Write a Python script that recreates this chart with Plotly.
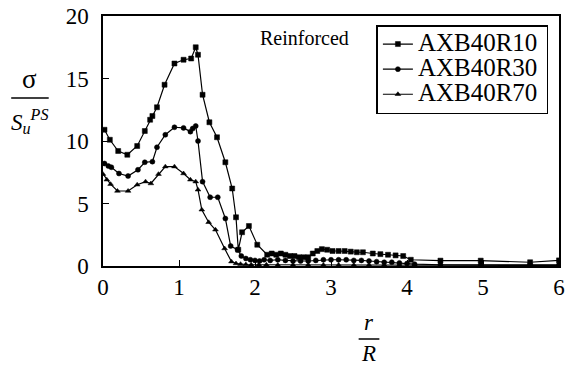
import plotly.graph_objects as go

# ---- data ----
x_r10 = [0.02, 0.09, 0.20, 0.32, 0.45, 0.55, 0.62, 0.65, 0.71, 0.81, 0.94, 1.06, 1.16, 1.22, 1.25,
         1.31, 1.40, 1.50, 1.61, 1.70, 1.75, 1.78, 1.83, 1.92, 2.03, 2.16, 2.22, 2.28, 2.34, 2.40,
         2.46, 2.52, 2.58, 2.64, 2.70, 2.76, 2.82, 2.88, 2.95, 3.02, 3.10, 3.18, 3.26, 3.34, 3.42,
         3.55, 3.65, 3.75, 3.85, 3.95, 4.05, 4.44, 4.97, 5.62, 6.00]
y_r10 = [10.9, 10.1, 9.2, 8.9, 9.6, 10.8, 11.7, 12.0, 12.7, 14.5, 16.2, 16.5, 16.6, 17.5, 16.9,
         13.7, 11.5, 10.3, 8.3, 6.2, 3.9, 1.3, 2.7, 3.2, 1.7, 0.9, 1.0, 0.9, 1.0, 0.9,
         0.8, 0.8, 0.7, 0.7, 0.7, 1.0, 1.2, 1.35, 1.3, 1.2, 1.2, 1.2, 1.15, 1.1, 1.1,
         1.0, 0.95, 0.9, 0.85, 0.8, 0.5, 0.43, 0.43, 0.3, 0.45]

x_r30 = [0.02, 0.07, 0.11, 0.21, 0.33, 0.46, 0.55, 0.65, 0.71, 0.82, 0.94, 1.06, 1.15, 1.18, 1.22,
         1.25, 1.31, 1.41, 1.51, 1.61, 1.68, 1.77, 1.82, 1.88, 1.94, 2.00, 2.06, 2.12, 2.20, 2.30,
         2.40, 2.50, 2.60, 2.70, 2.80, 2.90, 3.00, 3.10, 3.20, 3.30, 3.40, 3.50, 3.60, 3.70, 3.80,
         3.90, 4.00, 4.10, 4.44, 4.97, 5.62, 6.00]
y_r30 = [8.2, 8.0, 7.9, 7.4, 7.2, 7.7, 8.3, 8.35, 9.5, 10.5, 11.1, 11.05, 10.75, 11.0, 11.2,
         10.0, 6.75, 5.5, 5.5, 3.8, 1.6, 1.3, 0.8, 0.6, 0.5, 0.45, 0.4, 0.5, 0.45, 0.5,
         0.45, 0.4, 0.4, 0.4, 0.45, 0.5, 0.5, 0.5, 0.5, 0.45, 0.45, 0.4, 0.35, 0.3, 0.3,
         0.25, 0.2, 0.15, 0.1, 0.1, 0.1, 0.1]

x_r70 = [0.00, 0.05, 0.10, 0.19, 0.33, 0.45, 0.56, 0.63, 0.73, 0.82, 0.94, 1.06, 1.15, 1.22, 1.25,
         1.30, 1.39, 1.48, 1.60, 1.69, 1.75, 1.81, 1.88, 1.95, 2.05, 2.15, 2.30, 2.50, 2.70, 2.90,
         3.10, 3.30, 3.50, 3.70, 3.90, 4.10, 4.44, 4.97, 5.62, 6.00]
y_r70 = [7.35, 6.9, 6.55, 6.0, 6.0, 6.5, 6.75, 6.6, 7.35, 7.95, 7.95, 7.4, 6.9, 6.75, 6.1,
         4.5, 3.5, 2.9, 1.4, 0.35, 0.2, 0.15, 0.12, 0.1, 0.1, 0.1, 0.08, 0.08, 0.08, 0.08,
         0.08, 0.08, 0.08, 0.08, 0.08, 0.08, 0.05, 0.05, 0.05, 0.05]

series = [("AXB40R10", x_r10, y_r10, "square"),
          ("AXB40R30", x_r30, y_r30, "circle"),
          ("AXB40R70", x_r70, y_r70, "triangle-up")]

x_ticks = [0, 1, 2, 3, 4, 5, 6]
y_ticks = [0, 5, 10, 15, 20]

FONT = "'Liberation Serif', 'Times New Roman', Times, serif"

fig = go.Figure()
for name, xs, ys, sym in series:
    fig.add_trace(go.Scatter(
        x=xs, y=ys, mode="lines+markers",
        name=f'<span style="font-size:25px">{name}</span>&nbsp;',
        line=dict(color="black", width=1.2),
        marker=dict(symbol=sym, size=5, color="black",
                    line=dict(color="black", width=0.5)),
    ))

W, H = 569, 371
L, R, T, B = 103, 4, 16, 105
pw, ph = W - L - R, H - T - B

def px(xp):
    return (xp - L) / pw

def py(yp):
    return (H - B - yp) / ph

fig.update_layout(
    width=W, height=H,
    margin=dict(l=L, r=R, t=T, b=B, pad=0),
    paper_bgcolor="white", plot_bgcolor="white",
    font=dict(family=FONT, size=21, color="black"),
    showlegend=True,
    legend=dict(
        x=px(380), y=py(25), xanchor="left", yanchor="top",
        bgcolor="white", bordercolor="black", borderwidth=1.5,
        font=dict(family=FONT, size=17, color="black"),
        itemwidth=30, tracegroupgap=0,
    ),
    xaxis=dict(
        range=[0, 6], tickvals=x_ticks, ticktext=[str(v) for v in x_ticks],
        ticks="inside", ticklen=6, tickcolor="black",
        showline=True, linecolor="black", linewidth=1.5, mirror=True,
        showgrid=False, zeroline=False,
        tickfont=dict(family=FONT, size=23),
        ticklabelstandoff=0,
    ),
    yaxis=dict(
        range=[0, 20], tickvals=y_ticks, ticktext=[str(v) for v in y_ticks],
        ticks="inside", ticklen=6, tickcolor="black",
        showline=True, linecolor="black", linewidth=1.5, mirror=True,
        showgrid=False, zeroline=False,
        tickfont=dict(family=FONT, size=23),
        ticklabelstandoff=8,
    ),
)

def add_text(xp, yp, text, size=21):
    fig.add_annotation(x=px(xp), y=py(yp), text=text, xref="paper", yref="paper",
                       xanchor="center", yanchor="middle", showarrow=False,
                       font=dict(family=FONT, size=size, color="black"))

add_text(307, 38, "Reinforced", 20)

# y-axis title: sigma / S_u^PS
add_text(29, 79, "σ", 27)
fig.add_shape(type="line", xref="paper", yref="paper",
              x0=px(10), x1=px(48), y0=py(98), y1=py(98),
              line=dict(color="black", width=1.5))
add_text(29, 121, "<i>S<sub>u</sub><sup>PS</sup></i>", 23)

# x-axis title: r / R
add_text(372, 322, "<i>r</i>", 23)
fig.add_shape(type="line", xref="paper", yref="paper",
              x0=px(362), x1=px(383), y0=py(339), y1=py(339),
              line=dict(color="black", width=1.5))
add_text(372, 354, "<i>R</i>", 23)

fig.write_html("out.html")
